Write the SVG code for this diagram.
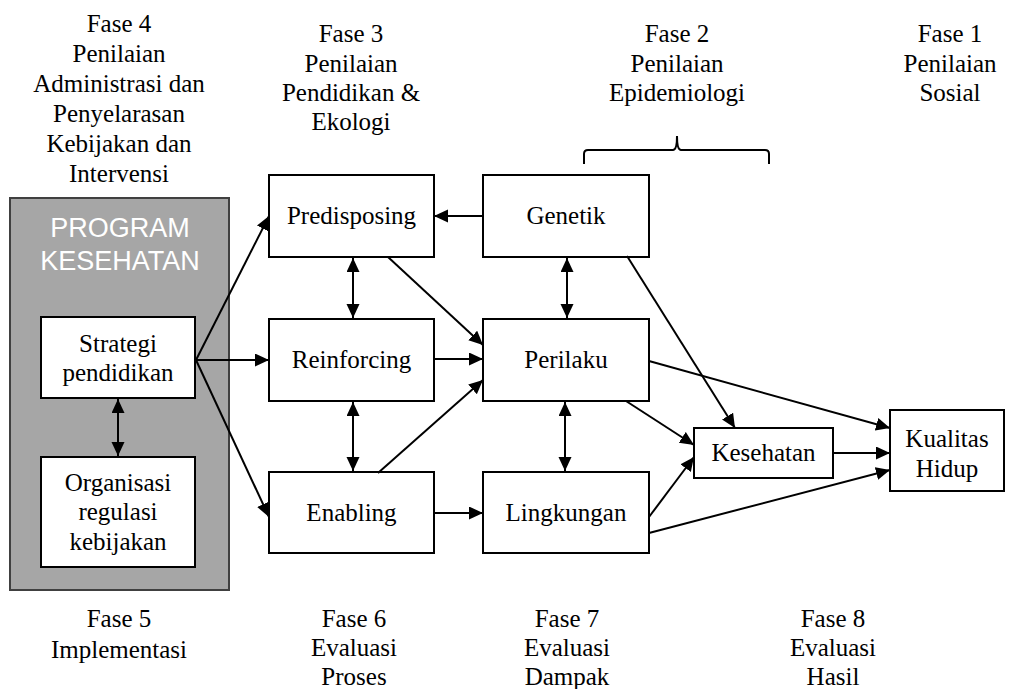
<svg xmlns="http://www.w3.org/2000/svg" width="1009" height="689" viewBox="0 0 1009 689">
<defs>
<marker id="ah" markerUnits="userSpaceOnUse" markerWidth="16" markerHeight="14" refX="14" refY="6.5" orient="auto-start-reverse"><path d="M0,0 L14,6.5 L0,13 z" fill="#000"/></marker>
<style>
.t{font-family:"Liberation Serif","Times New Roman",serif;font-size:25px;fill:#000;text-anchor:middle}
.b{fill:#fff;stroke:#000;stroke-width:2}
.c line,.c path{stroke:#000;stroke-width:2;fill:none}
.s{font-family:"Liberation Sans",Arial,sans-serif;font-size:27px;fill:#fff;text-anchor:middle}
</style>
</defs>
<rect width="1009" height="689" fill="#fff"/>
<g id="headers">
<text class="t" x="119" y="32">Fase 4</text>
<text class="t" x="119" y="62">Penilaian</text>
<text class="t" x="119" y="92">Administrasi dan</text>
<text class="t" x="119" y="122">Penyelarasan</text>
<text class="t" x="119" y="152">Kebijakan dan</text>
<text class="t" x="119" y="182">Intervensi</text>
<text class="t" x="351" y="42">Fase 3</text>
<text class="t" x="351" y="72">Penilaian</text>
<text class="t" x="351" y="101">Pendidikan &amp;</text>
<text class="t" x="351" y="130">Ekologi</text>
<text class="t" x="677" y="42">Fase 2</text>
<text class="t" x="677" y="72">Penilaian</text>
<text class="t" x="677" y="101">Epidemiologi</text>
<text class="t" x="950" y="42">Fase 1</text>
<text class="t" x="950" y="72">Penilaian</text>
<text class="t" x="950" y="101">Sosial</text>
<path d="M584,164 V154 Q584,150 588,150 H673 Q677,150 677,136 Q677,150 681,150 H765 Q769,150 769,154 V164" fill="none" stroke="#000" stroke-width="2"/>
</g>
<g id="footers">
<text class="t" x="119" y="627">Fase 5</text>
<text class="t" x="119" y="658">Implementasi</text>
<text class="t" x="354" y="627">Fase 6</text>
<text class="t" x="354" y="656">Evaluasi</text>
<text class="t" x="354" y="685">Proses</text>
<text class="t" x="567" y="627">Fase 7</text>
<text class="t" x="567" y="656">Evaluasi</text>
<text class="t" x="567" y="685">Dampak</text>
<text class="t" x="833" y="627">Fase 8</text>
<text class="t" x="833" y="656">Evaluasi</text>
<text class="t" x="833" y="685">Hasil</text>
</g>
<g id="program">
<rect x="10" y="198" width="219" height="392" fill="#a6a6a6" stroke="#404040" stroke-width="2"/>
<text class="s" x="120" y="237">PROGRAM</text>
<text class="s" x="120" y="270">KESEHATAN</text>
</g>
<g id="strategi"><rect class="b" x="41" y="317" width="154" height="81"/><text class="t" x="118" y="352">Strategi</text><text class="t" x="118" y="381">pendidikan</text></g>
<g id="organisasi"><rect class="b" x="41" y="457" width="154" height="110"/><text class="t" x="118" y="491">Organisasi</text><text class="t" x="118" y="520">regulasi</text><text class="t" x="118" y="550">kebijakan</text></g>
<g id="predisposing"><rect class="b" x="269" y="175" width="165" height="82"/><text class="t" x="351.5" y="224">Predisposing</text></g>
<g id="genetik"><rect class="b" x="483" y="175" width="166" height="82"/><text class="t" x="566" y="224">Genetik</text></g>
<g id="reinforcing"><rect class="b" x="269" y="319" width="165" height="82"/><text class="t" x="351.5" y="368">Reinforcing</text></g>
<g id="perilaku"><rect class="b" x="483" y="319" width="166" height="82"/><text class="t" x="566" y="368">Perilaku</text></g>
<g id="enabling"><rect class="b" x="269" y="472" width="165" height="81"/><text class="t" x="351.5" y="521">Enabling</text></g>
<g id="lingkungan"><rect class="b" x="483" y="472" width="166" height="81"/><text class="t" x="566" y="521">Lingkungan</text></g>
<g id="kesehatan"><rect class="b" x="694" y="428" width="139" height="50"/><text class="t" x="763.5" y="461">Kesehatan</text></g>
<g id="kualitas"><rect class="b" x="890" y="410" width="114" height="81"/><text class="t" x="947" y="447">Kualitas</text><text class="t" x="947" y="477">Hidup</text></g>
<g id="connectors" class="c">
<line x1="118" y1="399" x2="118" y2="456" marker-start="url(#ah)" marker-end="url(#ah)"/>
<line x1="196" y1="360" x2="269" y2="216" marker-end="url(#ah)"/>
<line x1="196" y1="360" x2="269" y2="360" marker-end="url(#ah)"/>
<line x1="196" y1="360" x2="269" y2="517" marker-end="url(#ah)"/>
<line x1="483" y1="216" x2="434" y2="216" marker-end="url(#ah)"/>
<line x1="353" y1="258" x2="353" y2="318" marker-start="url(#ah)" marker-end="url(#ah)"/>
<line x1="388" y1="257" x2="483" y2="345" marker-end="url(#ah)"/>
<line x1="567" y1="258" x2="567" y2="318" marker-start="url(#ah)" marker-end="url(#ah)"/>
<line x1="434" y1="359" x2="483" y2="359" marker-end="url(#ah)"/>
<line x1="353" y1="402" x2="353" y2="471" marker-start="url(#ah)" marker-end="url(#ah)"/>
<line x1="378" y1="473" x2="483" y2="380" marker-end="url(#ah)"/>
<line x1="565" y1="402" x2="565" y2="471" marker-start="url(#ah)" marker-end="url(#ah)"/>
<line x1="434" y1="513" x2="483" y2="513" marker-end="url(#ah)"/>
<line x1="627" y1="256" x2="735" y2="428" marker-end="url(#ah)"/>
<line x1="649" y1="361" x2="890" y2="428" marker-end="url(#ah)"/>
<line x1="626" y1="401" x2="694" y2="445" marker-end="url(#ah)"/>
<line x1="649" y1="517" x2="694" y2="457" marker-end="url(#ah)"/>
<line x1="833" y1="453" x2="890" y2="453" marker-end="url(#ah)"/>
<line x1="649" y1="533" x2="890" y2="470" marker-end="url(#ah)"/>
</g>
</svg>
